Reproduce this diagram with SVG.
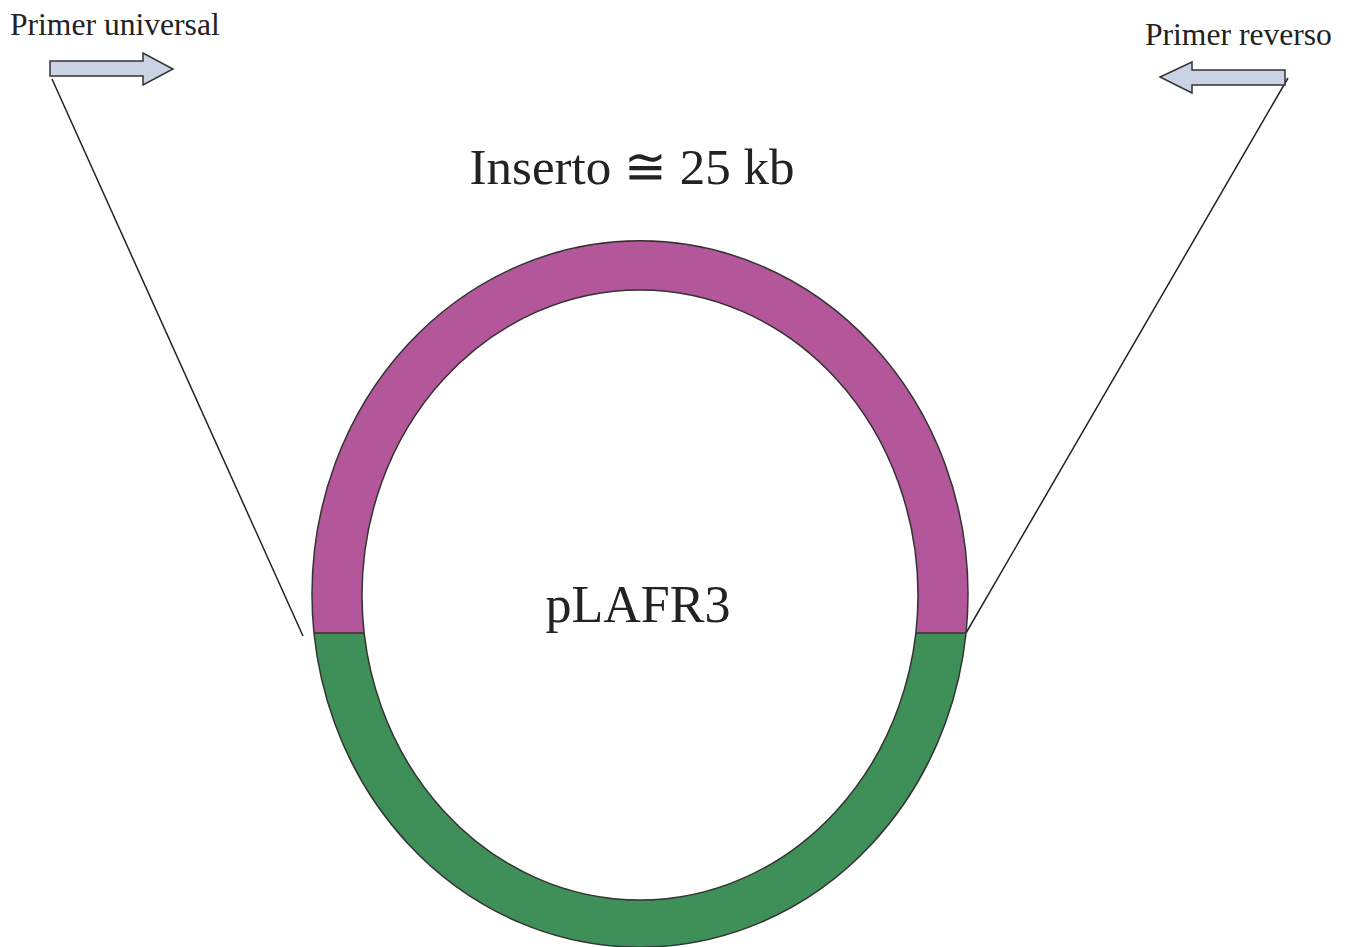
<svg xmlns="http://www.w3.org/2000/svg" width="1351" height="947" viewBox="0 0 1351 947">
<style>
text{font-family:"Liberation Serif","DejaVu Serif",serif;fill:#222}
.arrow{fill:#c9d3e4;stroke:#333;stroke-width:1.5}
.con{stroke:#222;stroke-width:1.5;fill:none}
.ring{fill-rule:evenodd;stroke:#333;stroke-width:1.5}
</style>
<defs>
<path id="ringShape" d="M312,594 A328,353 0 1 1 968,594 A328,353 0 1 1 312,594 Z M362,595 A278,305 0 1 0 918,595 A278,305 0 1 0 362,595 Z"/>
<clipPath id="topHalf"><rect x="0" y="0" width="1351" height="633"/></clipPath>
<clipPath id="bottomHalf"><rect x="0" y="633" width="1351" height="314"/></clipPath>
</defs>
<rect width="1351" height="947" fill="#fff"/>
<g id="connectors">
<line class="con" x1="52" y1="79" x2="303" y2="636"/>
<line class="con" x1="1288" y1="78" x2="966" y2="633"/>
</g>
<g id="plasmid">
<use id="insert" href="#ringShape" class="ring" fill="#b3579a" clip-path="url(#topHalf)"/>
<use id="vector" href="#ringShape" class="ring" fill="#3f8f58" clip-path="url(#bottomHalf)"/>
<line x1="314" y1="633" x2="364" y2="633" stroke="#333" stroke-width="1.5"/>
<line x1="916" y1="633" x2="966" y2="633" stroke="#333" stroke-width="1.5"/>
</g>
<g id="primer-universal">
<polygon class="arrow" points="50,61 143,61 143,53 173,69 143,85 143,76 50,76"/>
<text x="10" y="35" font-size="31.6">Primer universal</text>
</g>
<g id="primer-reverso">
<polygon class="arrow" points="1285,70 1192,70 1192,62 1160,77 1192,93 1192,85 1285,85"/>
<text x="1145" y="45" font-size="31.6">Primer reverso</text>
</g>
<g id="label-inserto">
<text x="632" y="184" font-size="51" text-anchor="middle">Inserto ≅ 25 kb</text>
</g>
<g id="label-plasmid">
<text x="638" y="622" font-size="52" text-anchor="middle">pLAFR3</text>
</g>
</svg>
